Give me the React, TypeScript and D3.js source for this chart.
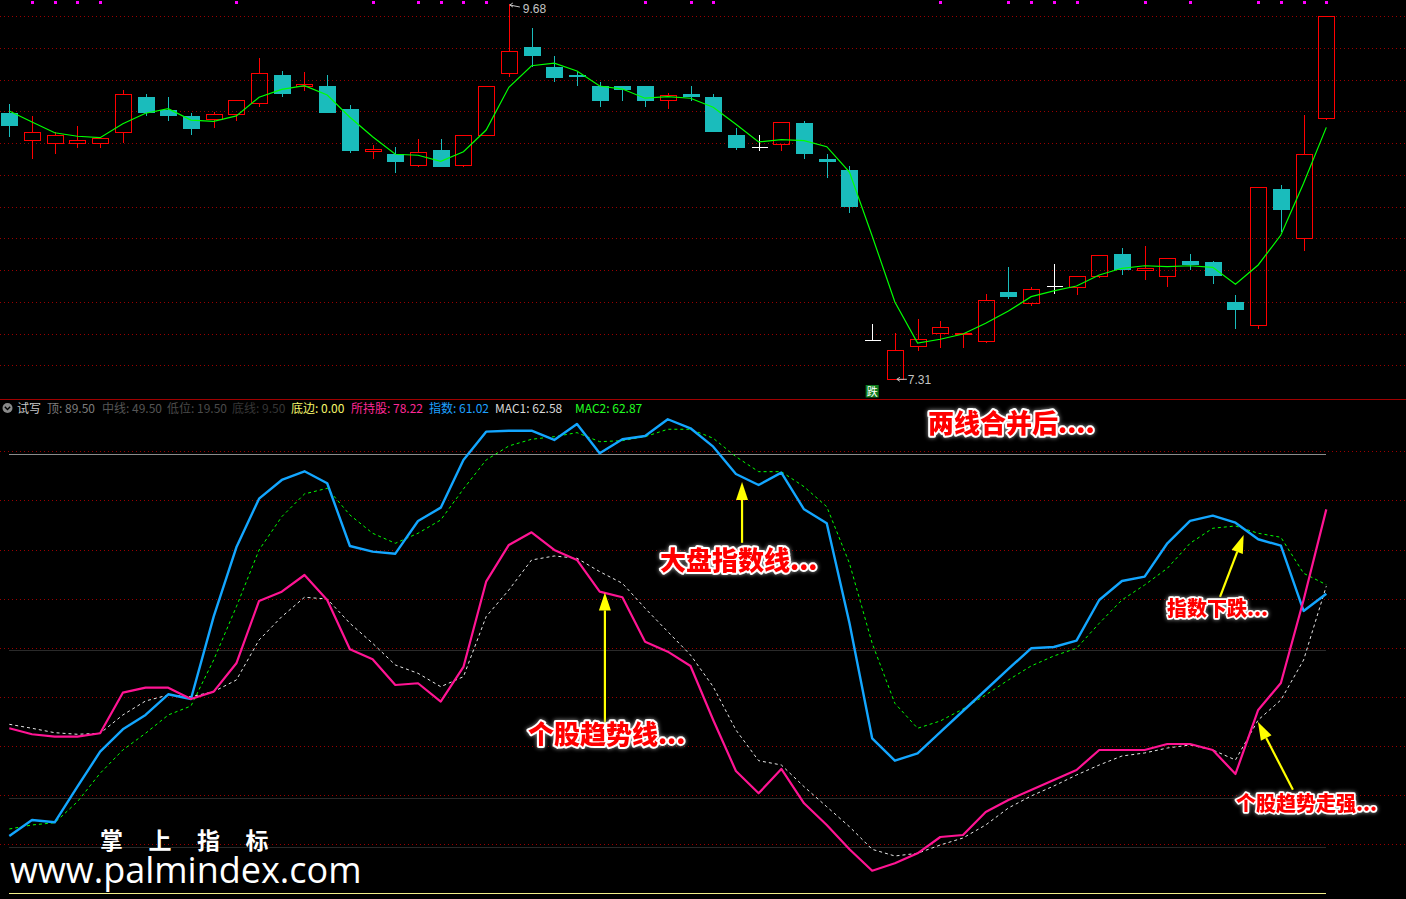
import React from 'react';
import * as d3 from 'd3';

// ---------- price panel (daily candles) ----------
const openP = [8.99, 8.82, 8.80, 8.80, 8.80, 8.87, 9.09, 9.01, 8.97, 8.95, 8.98, 9.05, 9.23, 9.16, 9.16, 9.02, 8.75, 8.73, 8.66, 8.76,
  8.66, 8.85, 9.24, 9.41, 9.28, 9.23, 9.16, 9.16, 9.16, 9.07, 9.11, 9.09, 8.85, 8.78, 8.79, 8.93, 8.70, 8.63, 7.56, 7.31,
  7.52, 7.60, 7.59, 7.55, 7.86, 7.79, 7.90, 7.89, 7.96, 8.10, 8.00, 7.96, 8.06, 8.05, 7.80, 7.65, 8.51, 8.20, 8.96];
const highP = [9.05, 8.97, 8.87, 8.91, 8.83, 9.14, 9.11, 9.09, 8.99, 9.00, 9.07, 9.34, 9.26, 9.25, 9.23, 9.04, 8.79, 8.78, 8.83, 8.83,
  8.85, 9.16, 9.68, 9.53, 9.35, 9.25, 9.19, 9.16, 9.16, 9.12, 9.16, 9.11, 8.90, 8.85, 8.93, 8.94, 8.73, 8.66, 7.66, 7.60,
  7.69, 7.68, 7.60, 7.85, 8.02, 7.89, 8.04, 7.96, 8.09, 8.14, 8.15, 8.07, 8.10, 8.06, 7.84, 8.52, 8.54, 8.98, 9.60];
const lowP = [8.84, 8.70, 8.73, 8.77, 8.77, 8.80, 8.97, 8.94, 8.85, 8.90, 8.94, 9.03, 9.09, 9.13, 8.99, 8.74, 8.70, 8.61, 8.65, 8.65,
  8.65, 8.85, 9.22, 9.28, 9.19, 9.16, 9.03, 9.07, 9.03, 9.02, 9.07, 8.87, 8.76, 8.75, 8.75, 8.70, 8.58, 8.36, 7.56, 7.31,
  7.49, 7.51, 7.51, 7.54, 7.82, 7.77, 7.85, 7.84, 7.95, 7.97, 7.94, 7.89, 8.00, 7.91, 7.63, 7.63, 8.24, 8.12, 8.95];
const closeP = [8.91, 8.87, 8.85, 8.82, 8.83, 9.11, 8.99, 8.97, 8.89, 8.98, 9.07, 9.24, 9.11, 9.17, 8.99, 8.75, 8.76, 8.68, 8.74, 8.65,
  8.85, 9.16, 9.38, 9.35, 9.21, 9.22, 9.07, 9.14, 9.07, 9.10, 9.09, 8.87, 8.77, 8.78, 8.93, 8.73, 8.68, 8.40, 7.56, 7.49,
  7.56, 7.64, 7.60, 7.81, 7.83, 7.88, 7.90, 7.96, 8.09, 8.00, 8.01, 8.07, 8.03, 7.96, 7.75, 8.52, 8.38, 8.73, 9.60];
const maLine = [9.004, 8.935, 8.867, 8.845, 8.836, 8.924, 8.990, 9.019, 8.947, 8.939, 8.973, 9.091, 9.141, 9.164, 9.105, 8.965, 8.842, 8.731, 8.725, 8.687,
  8.747, 8.884, 9.154, 9.290, 9.306, 9.257, 9.162, 9.143, 9.085, 9.095, 9.085, 9.028, 8.920, 8.809, 8.823, 8.817, 8.779, 8.619, 8.215, 7.798,
  7.539, 7.563, 7.596, 7.664, 7.741, 7.832, 7.868, 7.899, 7.969, 8.011, 8.027, 8.021, 8.027, 8.017, 7.910, 8.032, 8.221, 8.548, 8.901];
// days flagged by the purple marker along the top edge
const signalDays = [1, 2, 3, 4, 10, 16, 18, 19, 20, 21, 28, 30, 31, 41, 44, 45, 46, 47, 50, 52, 55, 56, 57, 58];
const fallDay = 38;

// ---------- indicator panel ----------
const holdLine = [33.62, 32.40, 31.91, 31.91, 32.60, 40.87, 41.89, 41.89, 39.59, 41.08, 46.86, 59.56, 61.45, 64.85, 59.76, 49.71, 47.68, 42.44, 42.79, 39.04,
  46.11, 63.49, 70.97, 73.55, 69.95, 67.91, 61.45, 60.31, 51.26, 49.23, 46.31, 35.31, 24.92, 20.37, 25.33, 18.34, 13.92, 8.96, 4.60, 6.11,
  8.15, 11.47, 11.88, 16.56, 19.01, 21.05, 23.08, 25.12, 29.20, 29.20, 29.20, 30.42, 30.42, 29.20, 24.31, 37.35, 42.85, 59.76, 78.22];
const indexLine = [11.67, 14.93, 14.47, 21.72, 28.85, 33.41, 36.33, 40.55, 39.59, 56.36, 70.50, 80.40, 84.21, 85.98, 83.54, 70.76, 69.60, 69.19, 75.86, 78.57,
  88.28, 94.05, 94.25, 94.25, 92.36, 95.62, 89.65, 92.50, 93.17, 96.58, 94.74, 90.99, 85.43, 83.19, 85.70, 78.24, 75.39, 55.07, 31.58, 27.02,
  28.52, 32.86, 37.14, 41.42, 45.70, 49.92, 50.18, 51.47, 59.76, 63.63, 64.51, 71.31, 75.86, 76.94, 75.51, 72.13, 70.82, 57.52, 61.02];
const mac1 = [34.43, 33.62, 32.72, 32.40, 32.60, 36.33, 39.18, 40.40, 40.06, 41.08, 43.46, 51.61, 56.36, 60.31, 59.96, 55.01, 50.94, 46.52, 44.82, 42.09,
  44.13, 56.36, 61.80, 67.91, 68.72, 68.26, 65.53, 63.16, 58.07, 53.30, 48.55, 42.09, 33.27, 27.02, 26.14, 21.72, 17.64, 13.57, 8.96, 7.60,
  8.15, 9.84, 11.27, 13.92, 17.38, 19.82, 21.86, 24.10, 26.14, 27.97, 28.59, 29.60, 30.22, 29.20, 27.16, 35.31, 39.38, 47.53, 62.58];
const mac2 = [13.10, 13.92, 14.38, 18.66, 24.45, 29.20, 32.60, 36.33, 38.16, 47.53, 58.39, 69.95, 76.73, 81.36, 82.52, 77.08, 73.35, 71.31, 73.35, 76.06,
  82.38, 88.28, 91.14, 92.50, 93.03, 93.85, 92.01, 92.22, 93.03, 94.54, 94.54, 92.71, 88.96, 85.90, 85.90, 82.84, 78.77, 67.24, 50.94, 38.71,
  33.62, 35.11, 37.55, 40.40, 43.46, 46.31, 48.35, 49.92, 55.01, 59.76, 62.82, 66.22, 71.31, 74.37, 74.84, 73.35, 72.53, 65.20, 62.87];

const levelNames = ['顶', '中线', '低位', '底线', '底边'];
const levelValues = [89.5, 49.5, 19.5, 9.5, 0];

// callouts, anchored in (day index, indicator value) space
const noteTexts = ['两线合并后....', '大盘指数线...', '个股趋势线...', '指数下跌...', '个股趋势走强...'];
const noteAnchors: [number, number][] = [[40.46, 96.2], [28.66, 68.3], [22.84, 32.7], [50.98, 58.3], [54.02, 18.4]];
const noteSizes = [26, 26, 26, 20, 20];
const arrowFrom: [number, number][] = [[32.27, 71.4], [26.23, 30.2], [53.32, 60.4], [56.53, 21.1]];
const arrowTo: [number, number][] = [[32.27, 83.8], [26.23, 61.3], [54.36, 73.0], [54.99, 34.9]];

const W = 1406;
const H = 899;
const CJK = '"Noto Sans CJK SC", "Noto Sans", sans-serif';
const LAT = '"Liberation Sans", Arial, sans-serif';

export default function App() {
  const n = closeP.length;
  const x = d3.scaleLinear().domain([0, n - 1]).range([9.3, 1326.3]);
  const yP = d3.scaleLinear().domain([7.31, 9.68]).range([379.3, 4]);
  const yI = d3.scaleLinear().domain([0, 89.5]).range([893.3, 454]);

  const priceLine = d3.line<number>().x((_, i) => x(i)).y((d) => yP(d));
  const indLine = d3.line<number>().x((_, i) => x(i)).y((d) => yI(d));

  const topGrid = d3.range(12).map((k) => 16 + k * 31.75);
  const lowGrid = d3.range(9).map((k) => 451.3 + k * 49.12);

  const RED = '#ff0000';
  const CYAN = '#1abcbc';
  const bodyHalf = 8;

  const hiIdx = d3.maxIndex(highP);
  const loIdx = d3.minIndex(lowP);

  const levelColors = ['#8a8a8a', '#2a2a2a', '#2a2a2a', '#2a2a2a', '#f3f08a'];

  const header = [
    { t: '试写', x: 17, c: '#c8c8c8' },
    { t: `${levelNames[0]}: ${levelValues[0].toFixed(2)}`, x: 47, c: '#7c7c7c' },
    { t: `${levelNames[1]}: ${levelValues[1].toFixed(2)}`, x: 102, c: '#555555' },
    { t: `${levelNames[2]}: ${levelValues[2].toFixed(2)}`, x: 167, c: '#4a4a4a' },
    { t: `${levelNames[3]}: ${levelValues[3].toFixed(2)}`, x: 232, c: '#363636' },
    { t: `${levelNames[4]}: ${levelValues[4].toFixed(2)}`, x: 291, c: '#f6f66a' },
    { t: `所持股: ${holdLine[n - 1].toFixed(2)}`, x: 351, c: '#ff2896' },
    { t: `指数: ${indexLine[n - 1].toFixed(2)}`, x: 429, c: '#1ea0ff' },
    { t: `MAC1: ${mac1[n - 1].toFixed(2)}`, x: 495, c: '#d8d8d8' },
    { t: `MAC2: ${mac2[n - 1].toFixed(2)}`, x: 575, c: '#22ff22' },
  ];

  return (
    <svg
      width={W}
      height={H}
      style={{ position: 'absolute', left: 0, top: 0, display: 'block', background: '#000' }}
    >
      <defs>
        <filter id="glow" x="-10%" y="-30%" width="120%" height="160%">
          <feGaussianBlur in="SourceAlpha" stdDeviation="2" result="b" />
          <feFlood floodColor="#9a9a9a" result="f" />
          <feComposite in="f" in2="b" operator="in" result="s" />
          <feMerge>
            <feMergeNode in="s" />
            <feMergeNode in="SourceGraphic" />
          </feMerge>
        </filter>
      </defs>
      <rect x={0} y={0} width={W} height={H} fill="#000" />

      {/* dotted background grid */}
      <g stroke="#9a0000" strokeWidth={1} strokeDasharray="1,3" shapeRendering="crispEdges">
        {topGrid.map((gy, k) => (
          <line key={'tg' + k} x1={0} x2={W} y1={Math.round(gy) + 0.5} y2={Math.round(gy) + 0.5} />
        ))}
        {lowGrid.map((gy, k) => (
          <line key={'lg' + k} x1={0} x2={W} y1={Math.round(gy) + 0.5} y2={Math.round(gy) + 0.5} />
        ))}
      </g>

      {/* panel separator */}
      <line x1={0} x2={W} y1={399.5} y2={399.5} stroke="#a00000" strokeWidth={1} />

      {/* signal markers */}
      {signalDays.map((d) => (
        <rect key={'s' + d} x={Math.round(x(d)) - 1} y={1} width={3} height={3} fill="#ff00ff" />
      ))}

      {/* candles */}
      <g shapeRendering="crispEdges">
        {closeP.map((c, i) => {
          const o = openP[i];
          const cx = Math.round(x(i)) + 0.5;
          const yt = yP(Math.max(o, c));
          const yb = yP(Math.min(o, c));
          if (c > o) {
            return (
              <g key={i} stroke={RED} strokeWidth={1} fill="none">
                {highP[i] > Math.max(o, c) && <line x1={cx} x2={cx} y1={yP(highP[i])} y2={yt} />}
                {lowP[i] < Math.min(o, c) && <line x1={cx} x2={cx} y1={yb} y2={yP(lowP[i])} />}
                <rect x={cx - bodyHalf} y={yt} width={bodyHalf * 2} height={Math.max(1, yb - yt)} />
              </g>
            );
          }
          if (c < o) {
            return (
              <g key={i}>
                <line x1={cx} x2={cx} y1={yP(highP[i])} y2={yP(lowP[i])} stroke={CYAN} strokeWidth={1} />
                <rect x={cx - bodyHalf - 0.5} y={yt} width={bodyHalf * 2 + 1} height={Math.max(1, yb - yt)} fill={CYAN} />
              </g>
            );
          }
          return (
            <g key={i} stroke="#ffffff" strokeWidth={1}>
              <line x1={cx} x2={cx} y1={yP(highP[i])} y2={yP(lowP[i])} />
              <line x1={cx - bodyHalf} x2={cx + bodyHalf} y1={Math.round(yt) + 0.5} y2={Math.round(yt) + 0.5} />
            </g>
          );
        })}
      </g>

      {/* moving average */}
      <path d={priceLine(maLine) || ''} fill="none" stroke="#00ff00" strokeWidth={1.2} />

      {/* high / low labels */}
      <g fill="#c4c4c4" fontFamily={LAT} fontSize={12}>
        <path
          d={`M${x(hiIdx) + 1},${yP(highP[hiIdx]) + 1} l3,-2 M${x(hiIdx) + 1},${yP(highP[hiIdx]) + 1} l3,2 M${x(hiIdx) + 1},${yP(highP[hiIdx]) + 1} l10,2`}
          stroke="#c4c4c4"
          fill="none"
        />
        <text x={x(hiIdx) + 14} y={yP(highP[hiIdx]) + 9}>{highP[hiIdx].toFixed(2)}</text>
        <path
          d={`M${x(loIdx) + 2},${yP(lowP[loIdx])} l3,-2 M${x(loIdx) + 2},${yP(lowP[loIdx])} l3,2 M${x(loIdx) + 2},${yP(lowP[loIdx])} h10`}
          stroke="#c4c4c4"
          fill="none"
        />
        <text x={x(loIdx) + 13} y={yP(lowP[loIdx]) + 5}>{lowP[loIdx].toFixed(2)}</text>
      </g>
      <rect x={x(fallDay) - 6.5} y={385} width={13} height={12.5} fill="#0d7d1d" />
      <text x={x(fallDay)} y={395.5} fill="#ffffff" fontFamily={CJK} fontSize={11} textAnchor="middle">跌</text>

      {/* indicator header */}
      <circle cx={7.5} cy={408} r={5} fill="#8a8a8a" />
      <path d="M4.8,406.8 L7.5,409.6 L10.2,406.8" stroke="#000" strokeWidth={1.4} fill="none" />
      <g fontFamily={CJK} fontSize={12}>
        {header.map((h, k) => (
          <text key={'h' + k} x={h.x} y={412.5} fill={h.c}>{h.t}</text>
        ))}
      </g>

      {/* reference levels */}
      <g shapeRendering="crispEdges">
        {levelValues.map((v, k) => (
          <line
            key={'lv' + k}
            x1={x(0)}
            x2={x(n - 1)}
            y1={Math.round(yI(v)) + 0.5}
            y2={Math.round(yI(v)) + 0.5}
            stroke={levelColors[k]}
            strokeWidth={1}
          />
        ))}
      </g>

      {/* indicator lines */}
      <path d={indLine(mac2) || ''} fill="none" stroke="#00ff00" strokeWidth={1} strokeDasharray="3,3" />
      <path d={indLine(mac1) || ''} fill="none" stroke="#e6e6e6" strokeWidth={1} strokeDasharray="3,3" />
      <path d={indLine(indexLine) || ''} fill="none" stroke="#13a6ff" strokeWidth={2.4} strokeLinejoin="round" />
      <path d={indLine(holdLine) || ''} fill="none" stroke="#ff1493" strokeWidth={2.2} strokeLinejoin="round" />

      {/* watermark */}
      <text x={100} y={849} fill="#ffffff" fontFamily={CJK} fontWeight={700} fontSize={23} letterSpacing={25.5}>掌上指标</text>
      <text x={10} y={883} fill="#ffffff" fontFamily='"Open Sans", sans-serif' fontSize={36}>www.palmindex.com</text>

      {/* callout arrows */}
      {arrowFrom.map((f, k) => {
        const x1 = x(f[0]);
        const y1 = yI(f[1]);
        const x2 = x(arrowTo[k][0]);
        const y2 = yI(arrowTo[k][1]);
        const ang = Math.atan2(y2 - y1, x2 - x1);
        const hl = 18;
        const hw = 6;
        const bx = x2 - hl * Math.cos(ang);
        const by = y2 - hl * Math.sin(ang);
        const px = -Math.sin(ang) * hw;
        const py = Math.cos(ang) * hw;
        return (
          <g key={'a' + k}>
            <line x1={x1} y1={y1} x2={bx} y2={by} stroke="#ffff00" strokeWidth={2.2} />
            <polygon points={`${x2},${y2} ${bx + px},${by + py} ${bx - px},${by - py}`} fill="#ffff00" />
          </g>
        );
      })}

      {/* callout texts */}
      {noteTexts.map((t, k) => (
        <text
          key={'n' + k}
          x={x(noteAnchors[k][0])}
          y={yI(noteAnchors[k][1])}
          dominantBaseline="central"
          fontFamily={CJK}
          fontWeight={900}
          fontSize={noteSizes[k]}
          fill="#ff0000"
          stroke="#ffffff"
          strokeWidth={noteSizes[k] > 22 ? 4 : 3.4}
          strokeLinejoin="round"
          paintOrder="stroke"
          filter="url(#glow)"
        >
          {t}
        </text>
      ))}
    </svg>
  );
}
